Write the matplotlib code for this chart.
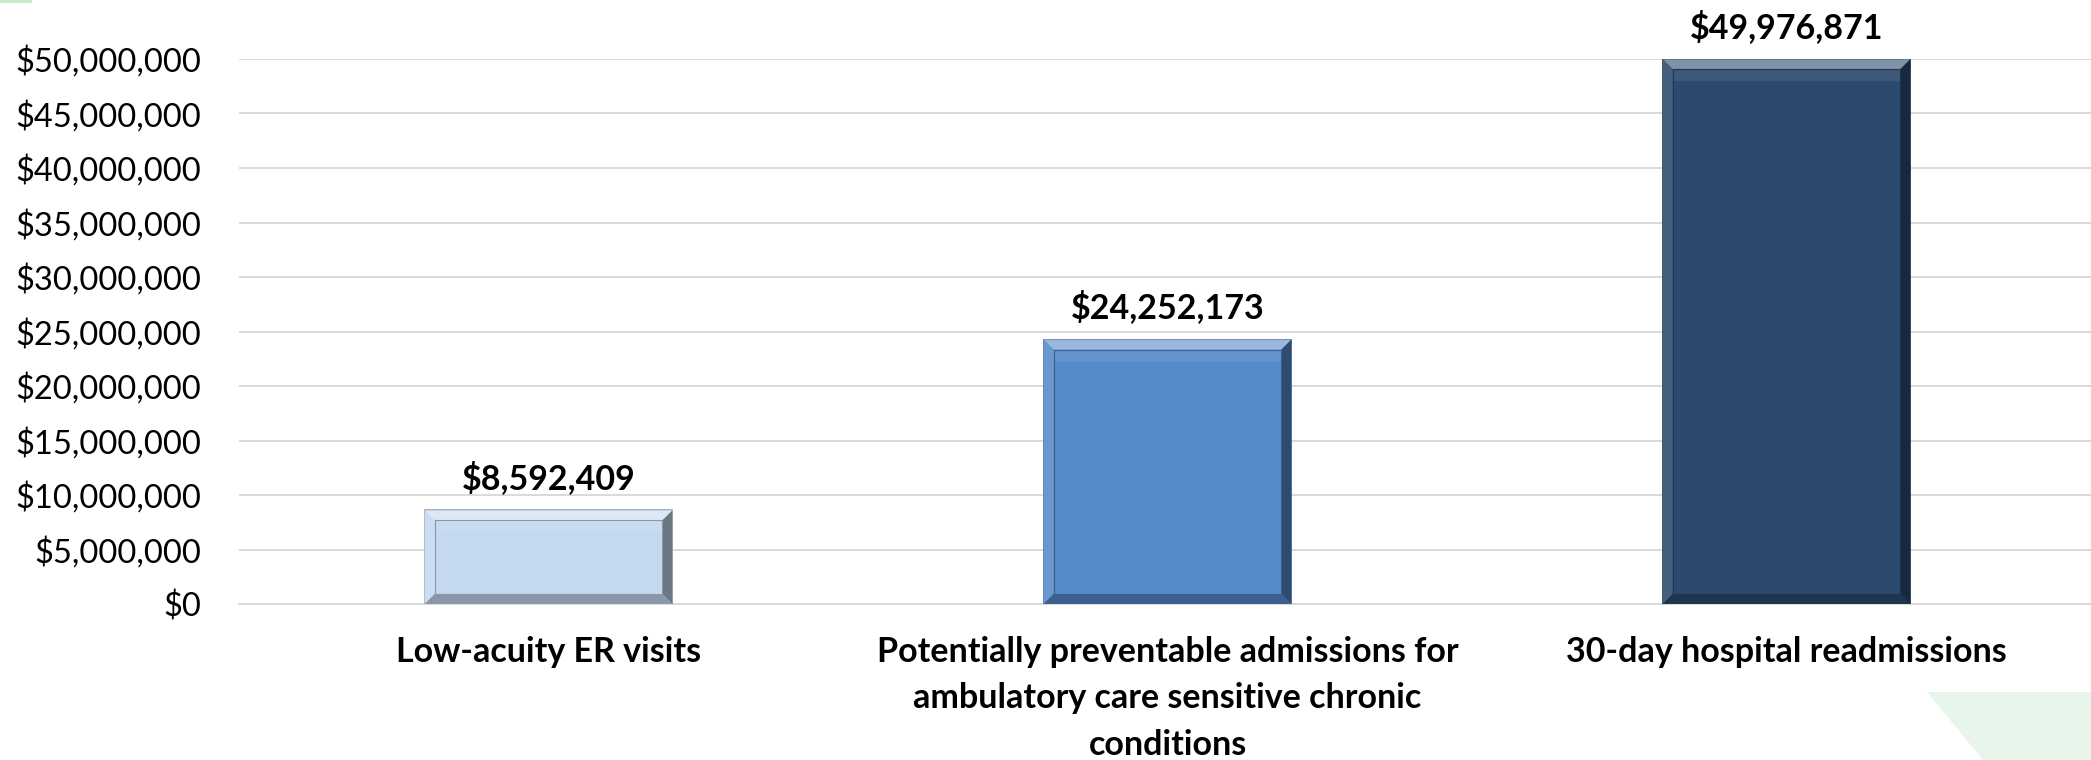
import matplotlib
matplotlib.use("Agg")
import matplotlib.pyplot as plt
from matplotlib.patches import Polygon, Rectangle
from matplotlib.ticker import FuncFormatter, MultipleLocator
import numpy as np

categories = [
    "Low-acuity ER visits",
    "Potentially preventable admissions for\nambulatory care sensitive chronic\nconditions",
    "30-day hospital readmissions",
]
costs = [8592409, 24252173, 49976871]
bar_colors = ["#C4D8F0", "#5689C9", "#2C4A6E"]

W, H, DPI = 2091, 760, 100
plt.rcParams["font.family"] = ["Lato", "DejaVu Sans"]


def shade(hex_color, amount):
    # amount > 0 mixes toward white, < 0 toward black
    c = np.array(matplotlib.colors.to_rgb(hex_color))
    if amount >= 0:
        c = c + (1 - c) * amount
    else:
        c = c * (1 + amount)
    return tuple(np.clip(c, 0, 1))


fig = plt.figure(figsize=(W / DPI, H / DPI), dpi=DPI)
left, right, bottom, top = 239, 2096, 604, 59
ax = fig.add_axes([left / W, 1 - bottom / H, (right - left) / W, (bottom - top) / H])

ymax = 50_000_000
ax.set_xlim(-0.5, len(categories) - 0.5)
ax.set_ylim(0, ymax)
ax.yaxis.set_major_locator(MultipleLocator(5_000_000))
ax.yaxis.set_major_formatter(FuncFormatter(lambda v, p: f"${v:,.0f}"))
ax.grid(axis="y", color="#D9D9D9", linewidth=1.4)
ax.set_axisbelow(True)
for s in ["top", "right", "left"]:
    ax.spines[s].set_visible(False)
ax.spines["bottom"].set_color("#D9D9D9")
ax.spines["bottom"].set_linewidth(1.4)
ax.tick_params(axis="both", length=0)
ax.tick_params(axis="y", pad=27, labelsize=23.5)
ax.set_xticks(range(len(categories)))
ax.set_xticklabels(categories, fontsize=24.5, fontweight="bold", linespacing=1.55)
ax.tick_params(axis="x", pad=23)

# pixel -> data scale for the bevel size
px_x = (len(categories)) / (right - left)
px_y = ymax / (bottom - top)
bx, by = 10 * px_x, 10 * px_y
width = 0.40

for i, (v, col) in enumerate(zip(costs, bar_colors)):
    x0, x1 = i - width / 2, i + width / 2
    y0, y1 = 0, v
    ax.add_patch(Rectangle((x0, y0), width, v, facecolor=col,
                           edgecolor=shade(col, -0.25), linewidth=1.2, zorder=3))
    ix0, ix1, iy0, iy1 = x0 + bx, x1 - bx, y0 + by, y1 - by
    faces = [
        ([(x0, y1), (x1, y1), (ix1, iy1), (ix0, iy1)], shade(col, 0.4)),
        ([(x0, y0), (x0, y1), (ix0, iy1), (ix0, iy0)], shade(col, 0.12)),
        ([(x1, y0), (x1, y1), (ix1, iy1), (ix1, iy0)], shade(col, -0.45)),
        ([(x0, y0), (x1, y0), (ix1, iy0), (ix0, iy0)], shade(col, -0.3)),
    ]
    for pts, fc in faces:
        ax.add_patch(Polygon(pts, closed=True, facecolor=fc, edgecolor="none", zorder=4))
    # soft highlight band just under the top bevel
    ax.add_patch(Rectangle((ix0, iy1 - 1.2 * by), ix1 - ix0, 1.2 * by,
                           facecolor=shade(col, 0.08), edgecolor="none", zorder=4))
    ax.add_patch(Rectangle((ix0, iy0), ix1 - ix0, iy1 - iy0, facecolor="none",
                           edgecolor=shade(col, -0.3), linewidth=0.8, zorder=5))
    ax.annotate(f"${v:,.0f}", xy=(i, v), xytext=(0, 23.5), textcoords="offset points",
                ha="center", va="center", fontsize=24.5, fontweight="bold", clip_on=False)

# decorative green shapes at the corners
fig.patches.append(Rectangle((0, 1 - 3 / H), 32 / W, 3 / H, transform=fig.transFigure,
                             facecolor="#C6EBCB", edgecolor="none"))
fig.patches.append(Polygon([(1927 / W, 1 - 692 / H), (1, 1 - 692 / H), (1, 0), (1983 / W, 0)],
                           closed=True, transform=fig.transFigure,
                           facecolor="#E8F5EA", edgecolor="none", zorder=-1))

fig.savefig("out.png", dpi=DPI)
